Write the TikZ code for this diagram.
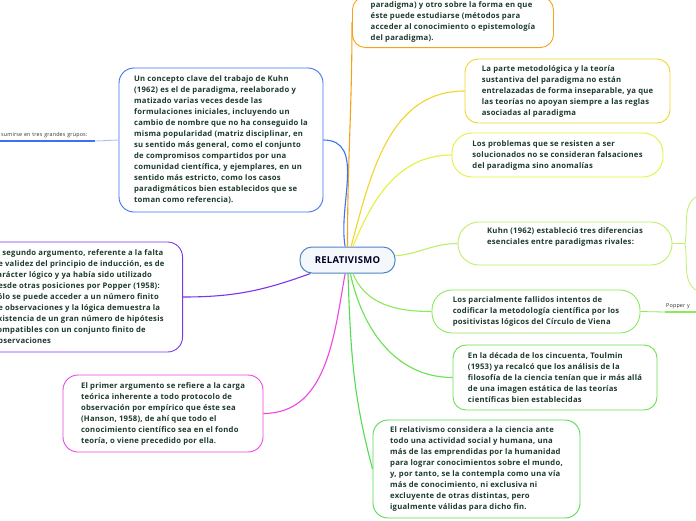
\documentclass[tikz,border=0pt]{standalone}
\usepackage{fontspec}
\setmainfont{Open Sans}[LetterSpace=3]
\usetikzlibrary{positioning}
\definecolor{txt}{HTML}{1C3B2C}
\definecolor{cOrg}{HTML}{F5A31A}
\definecolor{cYel}{HTML}{F3D52A}
\definecolor{cYlg}{HTML}{E4F23A}
\definecolor{cKuh}{HTML}{BFEF66}
\definecolor{cCir}{HTML}{8CE95C}
\definecolor{cTou}{HTML}{68E24E}
\definecolor{cRel}{HTML}{55DC52}
\definecolor{cBlu}{HTML}{3D72F2}
\definecolor{cBlu2}{HTML}{A3BDF7}
\definecolor{cPur}{HTML}{7B35EE}
\definecolor{cMag}{HTML}{EE45E6}
\definecolor{cCtr}{HTML}{4C86C6}

\begin{document}
\begin{tikzpicture}[x=1pt,y=-1pt,
  bx/.style={draw,rounded corners=13pt,fill=white,line width=0.9pt,align=left,text=txt,
    font=\fontsize{7.7}{11}\selectfont\bfseries,inner xsep=14pt,inner ysep=4pt},
  leaf/.style={inner xsep=1pt,inner ysep=3pt,align=left,text=black!80,font=\fontsize{5.4}{7}\selectfont},
  ln/.style={line width=1.1pt}]
  \clip (0,0) rectangle (696,520);
  \fill[white] (0,0) rectangle (696,520);

  \node[draw=cCtr,fill=cCtr!6,rounded corners=12pt,line width=1pt,minimum width=95pt,minimum height=26pt,
    text=black!85!blue,font=\fontsize{9.5}{10}\selectfont\bfseries] (ctr) at (347.5,260) {RELATIVISMO};

  \node[bx,draw=cOrg,anchor=south west,inner xsep=13pt,inner ysep=5pt,minimum width=201pt] (org) at (352,48)
    {paradigma) y otro sobre la forma en que\\
     éste puede estudiarse (métodos para\\
     acceder al conocimiento o epistemología\\
     del paradigma).};
  \node[bx,draw=cYel,minimum width=205pt,minimum height=64pt] (yel) at (567.5,91)
    {La parte metodológica y la teoría\\
     sustantiva del paradigma no están\\
     entrelazadas de forma inseparable, ya que\\
     las teorías no apoyan siempre a las reglas\\
     asociadas al paradigma};
  \node[bx,draw=cYlg,rounded corners=20pt,minimum width=211pt,minimum height=44pt] (ylg) at (557.5,155)
    {Los problemas que se resisten a ser\\
     solucionados no se consideran falsaciones\\
     del paradigma sino anomalías};
  \node[bx,draw=cBlu,rounded corners=15pt,minimum width=204pt,minimum height=144pt] (blu) at (221,140)
    {Un concepto clave del trabajo de Kuhn\\
     (1962) es el de paradigma, reelaborado y\\
     matizado varias veces desde las\\
     formulaciones iniciales, incluyendo un\\
     cambio de nombre que no ha conseguido la\\
     misma popularidad (matriz disciplinar, en\\
     su sentido más general, como el conjunto\\
     de compromisos compartidos por una\\
     comunidad científica, y ejemplares, en un\\
     sentido más estricto, como los casos\\
     paradigmáticos bien establecidos que se\\
     toman como referencia).};
  \node[bx,draw=cPur,rounded corners=15pt,anchor=east,inner xsep=18pt,minimum height=110pt] (pur) at (183,297)
    {El segundo argumento, referente a la falta\\
     de validez del principio de inducción, es de\\
     carácter lógico y ya había sido utilizado\\
     desde otras posiciones por Popper (1958):\\
     Sólo se puede acceder a un número finito\\
     de observaciones y la lógica demuestra la\\
     existencia de un gran número de hipótesis\\
     compatibles con un conjunto finito de\\
     observaciones};
  \node[bx,draw=cKuh,rounded corners=21pt,minimum width=214pt,minimum height=43pt] (kuh) at (565,243.5)
    {Kuhn (1962) estableció tres diferencias\\
     esenciales entre paradigmas rivales:\\[3pt]};
  \node[bx,draw=cCir,rounded corners=20pt,minimum width=208pt,minimum height=43pt] (cir) at (536,311.5)
    {Los parcialmente fallidos intentos de\\
     codificar la metodología científica por los\\
     positivistas lógicos del Círculo de Viena};
  \node[bx,draw=cTou,minimum width=204pt,minimum height=65pt] (tou) at (555,377.5)
    {En la década de los cincuenta, Toulmin\\
     (1953) ya recalcó que los análisis de la\\
     filosofía de la ciencia tenían que ir más allá\\
     de una imagen estática de las teorías\\
     científicas bien establecidas};
  \node[bx,draw=cMag,rounded corners=15pt,minimum width=200pt,minimum height=77pt] (mag) at (163,413.5)
    {El primer argumento se refiere a la carga\\
     teórica inherente a todo protocolo de\\
     observación por empírico que éste sea\\
     (Hanson, 1958), de ahí que todo el\\
     conocimiento científico sea en el fondo\\
     teoría, o viene precedido por ella.};
  \node[bx,draw=cRel,rounded corners=15pt,minimum width=207pt,minimum height=98pt] (rel) at (476.5,469)
    {El relativismo considera a la ciencia ante\\
     todo una actividad social y humana, una\\
     más de las emprendidas por la humanidad\\
     para lograr conocimientos sobre el mundo,\\
     y, por tanto, se la contempla como una vía\\
     más de conocimiento, ni exclusiva ni\\
     excluyente de otras distintas, pero\\
     igualmente válidas para dicho fin.};

  % hojas recortadas en los bordes
  \node[leaf,anchor=south west,text width=93pt] (grp) at (0,141) {sumirse en tres grandes grupos:};
  \node[leaf,anchor=south west,text width=29pt] (pop) at (665,312) {Popper y};
  \coordinate (kj) at (685,243.5);
  \coordinate (k1) at (700,195);
  \coordinate (k2) at (700,292);

  % ramas desde el centro
  \foreach \n/\c/\o/\i in {org/cOrg/90/270,yel/cYel/75/180,ylg/cYlg/68/180,kuh/cKuh/5/180,
      cir/cCir/-68/180,tou/cTou/-78/180,rel/cRel/-88/105}
    \draw[ln,\c] (ctr) to[out=\o,in=\i] (\n.west);
  \foreach \n/\c/\o in {blu/cBlu/100,pur/cPur/200,mag/cMag/-100}
    \draw[ln,\c] (ctr) to[out=\o,in=0] (\n.east);

  \draw[line width=0.8pt,cBlu2] (blu.west) -- (grp.south east);
  \draw[line width=1.6pt,cBlu] (grp.south west) -- (grp.south east);
  \draw[line width=0.8pt,cCir] (cir.east) -- (pop.south west);
  \draw[line width=1.6pt,cCir] (pop.south west) -- (pop.south east);
  \draw[line width=0.8pt,cKuh] (kuh.east) -- (kj) to[out=80,in=200] (k1)
    (kj) to[out=-80,in=160] (k2);
\end{tikzpicture}
\end{document}
